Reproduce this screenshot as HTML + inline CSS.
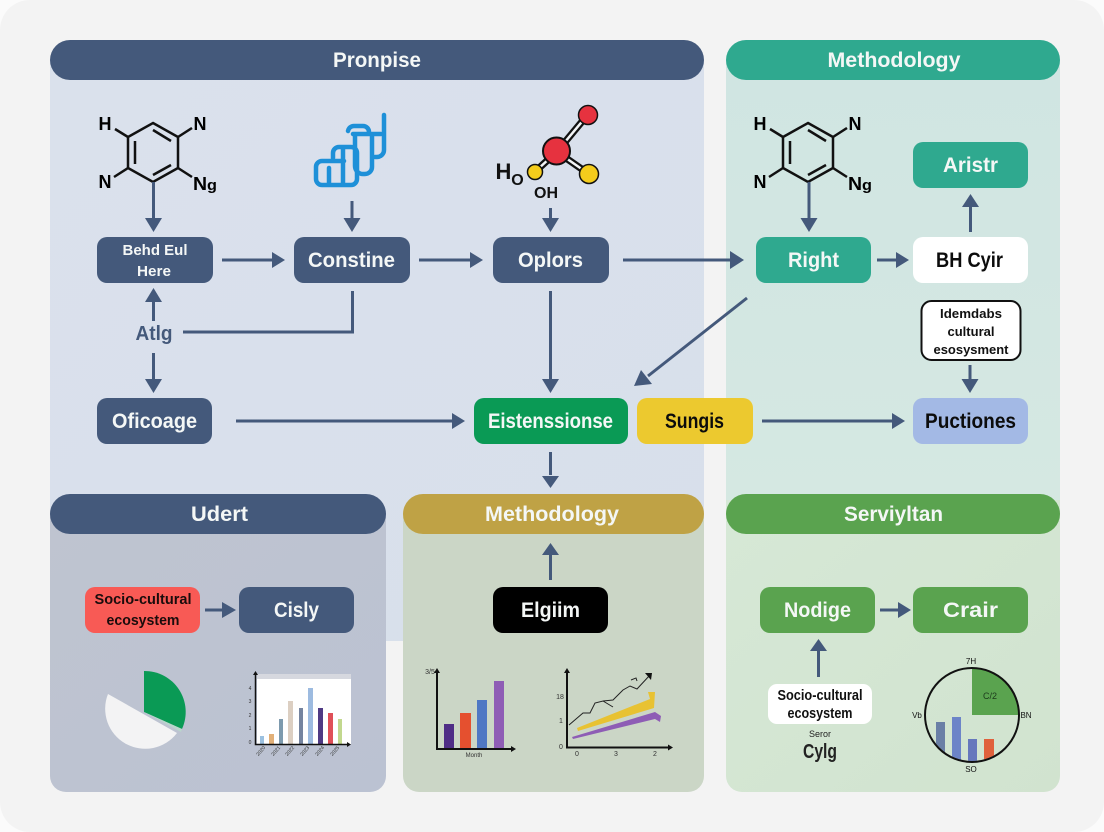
<!DOCTYPE html>
<html><head><meta charset="utf-8"><style>
html,body{margin:0;padding:0;background:#fff}
svg{display:block}
text{font-family:"Liberation Sans",sans-serif;font-weight:700;text-anchor:middle}
.h{font-size:21px;fill:#f4f7f6}
.n{font-size:21px;fill:#f4f7f6}
.k{font-size:21px;fill:#0c0c0c}
.a{font-size:18px;fill:#000}
.s{font-size:15px}
.t{font-size:7px;font-weight:400;fill:#333}
.ln{stroke:#44597b;stroke-width:3;fill:none}
.hd{fill:#44597b}
</style></head><body>
<svg width="1104" height="832" viewBox="0 0 1104 832" xmlns="http://www.w3.org/2000/svg">
<defs>
<linearGradient id="bl" x1="0" y1="0" x2="1" y2="1"><stop offset="0" stop-color="#dae1ec"/><stop offset="1" stop-color="#d8dfeb"/></linearGradient>
<linearGradient id="te" x1="0" y1="0" x2="0" y2="1"><stop offset="0" stop-color="#d0e5e2"/><stop offset="1" stop-color="#d5e8e2"/></linearGradient>
<linearGradient id="gr" x1="0" y1="0" x2="1" y2="1"><stop offset="0" stop-color="#d6e8d6"/><stop offset="1" stop-color="#d1e3cf"/></linearGradient>
<linearGradient id="ud" x1="0" y1="0" x2="1" y2="1"><stop offset="0" stop-color="#bfc4d0"/><stop offset="1" stop-color="#bbc2d2"/></linearGradient>
<clipPath id="cc"><circle cx="972" cy="715" r="46"/></clipPath>
</defs>
<rect width="1104" height="832" fill="#fbfbfb"/>
<rect x="0" y="0" width="1104" height="832" rx="30" fill="#f3f3f3"/>

<!-- panels -->
<path d="M50 60H704V641H50Z" fill="url(#bl)"/>
<rect x="386" y="641" width="17" height="151" fill="#f3f3f3"/>
<path d="M726 60H1060V500H726Z" fill="url(#te)"/>
<path d="M726 500H1060V776a16 16 0 0 1-16 16H742a16 16 0 0 1-16-16Z" fill="url(#gr)"/>
<path d="M50 514H386V776a16 16 0 0 1-16 16H66a16 16 0 0 1-16-16Z" fill="url(#ud)"/>
<path d="M403 514H704V776a16 16 0 0 1-16 16H419a16 16 0 0 1-16-16Z" fill="#cbd6c6"/>

<!-- headers -->
<rect x="50" y="40" width="654" height="40" rx="20" fill="#44597b"/>
<rect x="726" y="40" width="334" height="40" rx="20" fill="#2fa98f"/>
<rect x="50" y="494" width="336" height="40" rx="20" fill="#44597b"/>
<rect x="403" y="494" width="301" height="40" rx="20" fill="#bfa245"/>
<rect x="726" y="494" width="334" height="40" rx="20" fill="#5aa34f"/>
<text class="h" x="377" y="67" textLength="88" lengthAdjust="spacingAndGlyphs">Pronpise</text>
<text class="h" x="894" y="67" textLength="133" lengthAdjust="spacingAndGlyphs">Methodology</text>
<text class="h" x="219.500" y="521" textLength="57" lengthAdjust="spacingAndGlyphs">Udert</text>
<text class="h" x="552" y="521" textLength="134" lengthAdjust="spacingAndGlyphs">Methodology</text>
<text class="h" x="893.500" y="521" textLength="99" lengthAdjust="spacingAndGlyphs">Serviyltan</text>

<!-- left molecule -->
<g fill="none" stroke="#111" stroke-width="2.500">
<path d="M153 123L178 137V168L153 182L128 168V137Z"/>
<path d="M153 130L171 141M171 165L153 175M135 141V164"/>
<path d="M128 137L115 129M178 137L192 128M178 168L192 177M128 168L114 177"/>
</g>
<text class="a" x="105" y="130">H</text><text class="a" x="200" y="130">N</text>
<text class="a" x="105" y="188">N</text><text class="a" x="205" y="190" textLength="24" lengthAdjust="spacingAndGlyphs">N<tspan font-size="15">g</tspan></text>
<!-- right molecule -->
<g fill="none" stroke="#111" stroke-width="2.500">
<path d="M808 123L833 137V168L808 182L783 168V137Z"/>
<path d="M808 130L826 141M826 165L808 175M790 141V164"/>
<path d="M783 137L770 129M833 137L847 128M833 168L847 177M783 168L769 177"/>
</g>
<text class="a" x="760" y="130">H</text><text class="a" x="855" y="130">N</text>
<text class="a" x="760" y="188">N</text><text class="a" x="860" y="190" textLength="24" lengthAdjust="spacingAndGlyphs">N<tspan font-size="15">g</tspan></text>

<!-- blue icon -->
<g fill="none" stroke="#1e90d8" stroke-width="4.500" stroke-linecap="round" stroke-linejoin="round">
<path d="M384 115V150a7 7 0 0 1-7 7H375"/>
<path d="M348 131a6 6 0 0 1 6-5H363a6 6 0 0 1 6 6"/>
<path d="M353 134H381"/>
<path d="M355 136V166a8 8 0 0 0 8 8H365a7 7 0 0 0 7-7V136"/>
<path d="M333 158V153a6 6 0 0 1 6-6H351a6 6 0 0 1 6 6V179a6 6 0 0 1-6 6H322a6 6 0 0 1-6-6V167a6 6 0 0 1 6-6H344"/>
<path d="M343 148V184"/>
<path d="M329 168V184"/>
</g>

<!-- ball molecule -->
<g fill="none">
<path d="M560 148L585 118" stroke="#111" stroke-width="7"/>
<path d="M560 148L585 118" stroke="#f4f6f8" stroke-width="2.500"/>
<path d="M563 156L586 172" stroke="#111" stroke-width="7"/>
<path d="M563 156L586 172" stroke="#f4f6f8" stroke-width="2.500"/>
<path d="M538 169L550 158" stroke="#111" stroke-width="7"/>
<path d="M538 169L550 158" stroke="#f4f6f8" stroke-width="2.500"/>
</g>
<circle cx="588" cy="115" r="9.500" fill="#e6323f" stroke="#111" stroke-width="1.500"/>
<circle cx="589" cy="174" r="9.500" fill="#f4cc1c" stroke="#111" stroke-width="1.500"/>
<circle cx="535" cy="172" r="7.500" fill="#f4cc1c" stroke="#111" stroke-width="1.500"/>
<circle cx="556.500" cy="151" r="13.500" fill="#e6323f" stroke="#111" stroke-width="2"/>
<text x="503.500" y="179" style="font-size:22px" fill="#111">H</text>
<text x="517.500" y="185" style="font-size:16px" fill="#111">O</text>
<text x="546" y="198" style="font-size:16px" fill="#111">OH</text>

<!-- connectors -->
<g class="ln">
<path class="ln" d="M153.500 182V220"/>
<path class="ln" d="M352 201V220"/>
<path class="ln" d="M550.500 208V220"/>
<path class="ln" d="M809 182V220"/>
<path class="ln" d="M222 260H272"/>
<path class="ln" d="M419 260H470"/>
<path class="ln" d="M623 260H730"/>
<path class="ln" d="M877 260H896"/>
<path class="ln" d="M970.500 232V205"/>
<path class="ln" d="M153.500 321V300"/>
<path class="ln" d="M153.500 353V380"/>
<path class="ln" d="M183 332H352.500V291"/>
<path class="ln" d="M550.500 291V380"/>
<path class="ln" d="M747 298L648 376"/>
<path class="ln" d="M236 421H452"/>
<path class="ln" d="M762 421H892"/>
<path class="ln" d="M970 365V380"/>
<path class="ln" d="M550.500 452V475"/>
<path class="ln" d="M550.500 580V555"/>
<path class="ln" d="M205 610H222"/>
<path class="ln" d="M880 610H898"/>
<path class="ln" d="M818.500 677V650"/>
</g>
<g class="hd">
<path d="M145 218H162L153.500 232Z"/>
<path d="M343.500 218H360.500L352 232Z"/>
<path d="M542 218H559L550.500 232Z"/>
<path d="M800.500 218H817.500L809 232Z"/>
<path d="M272 252V268L285 260Z"/>
<path d="M470 252V268L483 260Z"/>
<path d="M730 251V269L744 260Z"/>
<path d="M896 252V268L909 260Z"/>
<path d="M962 207H979L970.500 194Z"/>
<path d="M145 302H162L153.500 288Z"/>
<path d="M145 379H162L153.500 393Z"/>
<path d="M542 379H559L550.500 393Z"/>
<path d="M634 386L652 384L641 370Z"/>
<path d="M452 413V429L465 421Z"/>
<path d="M892 413V429L905 421Z"/>
<path d="M961.500 379H978.500L970 393Z"/>
<path d="M542 476H559L550.500 488Z"/>
<path d="M542 555H559L550.500 543Z"/>
<path d="M222 602V618L236 610Z"/>
<path d="M898 602V618L911 610Z"/>
<path d="M810 651H827L818.500 639Z"/>
</g>

<!-- nodes -->
<rect x="97" y="237" width="116" height="46" rx="10" fill="#44597b"/>
<text x="155" y="255" class="s" fill="#f4f7f6" textLength="65" lengthAdjust="spacingAndGlyphs">Behd Eul</text>
<text x="154" y="276" class="s" fill="#f4f7f6" textLength="34" lengthAdjust="spacingAndGlyphs">Here</text>
<rect x="294" y="237" width="116" height="46" rx="10" fill="#44597b"/>
<text class="n" x="351.500" y="267" textLength="87" lengthAdjust="spacingAndGlyphs">Constine</text>
<rect x="493" y="237" width="116" height="46" rx="10" fill="#44597b"/>
<text class="n" x="550.500" y="267" textLength="65" lengthAdjust="spacingAndGlyphs">Oplors</text>
<rect x="756" y="237" width="115" height="46" rx="10" fill="#2fa98f"/>
<text class="n" x="813.500" y="267" textLength="51" lengthAdjust="spacingAndGlyphs">Right</text>
<rect x="913" y="237" width="115" height="46" rx="10" fill="#fff"/>
<text class="k" x="969.500" y="267" textLength="67" lengthAdjust="spacingAndGlyphs">BH Cyir</text>
<rect x="913" y="142" width="115" height="46" rx="10" fill="#2fa98f"/>
<text class="n" x="970.500" y="172" textLength="55" lengthAdjust="spacingAndGlyphs">Aristr</text>
<text x="154" y="340" style="font-size:20px" fill="#44597b" textLength="37" lengthAdjust="spacingAndGlyphs">Atlg</text>
<rect x="97" y="398" width="115" height="46" rx="10" fill="#44597b"/>
<text class="n" x="154.500" y="428" textLength="85" lengthAdjust="spacingAndGlyphs">Oficoage</text>
<rect x="474" y="398" width="154" height="46" rx="10" fill="#0a9a55"/>
<text class="n" x="550.500" y="428" textLength="125" lengthAdjust="spacingAndGlyphs">Eistenssionse</text>
<rect x="637" y="398" width="116" height="46" rx="10" fill="#ecc92f"/>
<text class="k" x="694.500" y="428" textLength="59" lengthAdjust="spacingAndGlyphs">Sungis</text>
<rect x="913" y="398" width="115" height="46" rx="10" fill="#a3b9e5"/>
<text class="k" x="970.500" y="428" textLength="91" lengthAdjust="spacingAndGlyphs">Puctiones</text>
<rect x="921.500" y="301" width="99" height="59" rx="10" fill="#fff" stroke="#111" stroke-width="2"/>
<g fill="#111" style="font-size:13px">
<text x="971" y="318" style="font-size:13px" textLength="62" lengthAdjust="spacingAndGlyphs">Idemdabs</text>
<text x="971" y="336" style="font-size:13px" textLength="47" lengthAdjust="spacingAndGlyphs">cultural</text>
<text x="971" y="354" style="font-size:13px" textLength="75" lengthAdjust="spacingAndGlyphs">esosysment</text>
</g>
<rect x="85" y="587" width="115" height="46" rx="10" fill="#f85a55"/>
<text x="143" y="604" class="s" fill="#1a0c0c" textLength="97" lengthAdjust="spacingAndGlyphs">Socio-cultural</text>
<text x="143" y="625" class="s" fill="#1a0c0c" textLength="73" lengthAdjust="spacingAndGlyphs">ecosystem</text>
<rect x="239" y="587" width="115" height="46" rx="10" fill="#44597b"/>
<text class="n" x="296.500" y="617" textLength="45" lengthAdjust="spacingAndGlyphs">Cisly</text>
<rect x="493" y="587" width="115" height="46" rx="10" fill="#000"/>
<text class="n" x="550.500" y="617" textLength="59" lengthAdjust="spacingAndGlyphs">Elgiim</text>
<rect x="760" y="587" width="115" height="46" rx="10" fill="#5aa34f"/>
<text class="n" x="817.500" y="617" textLength="67" lengthAdjust="spacingAndGlyphs">Nodige</text>
<rect x="913" y="587" width="115" height="46" rx="10" fill="#5aa34f"/>
<text class="n" x="970.500" y="617" textLength="55" lengthAdjust="spacingAndGlyphs">Crair</text>
<rect x="768" y="684" width="104" height="40" rx="9" fill="#fff"/>
<text x="820" y="700" class="s" fill="#111" textLength="85" lengthAdjust="spacingAndGlyphs">Socio-cultural</text>
<text x="820" y="718" class="s" fill="#111" textLength="65" lengthAdjust="spacingAndGlyphs">ecosystem</text>
<text x="820" y="737" style="font-size:9px;font-weight:400" fill="#222">Seror</text>
<text x="820" y="758" style="font-size:20px" fill="#222" textLength="34" lengthAdjust="spacingAndGlyphs">Cylg</text>

<!-- pie -->
<path d="M144 671A41 41 0 0 1 182 729L144 712Z" fill="#0a9a55"/>
<path d="M144 712L182 729L181 732Z" fill="#b9d6cc"/>
<path d="M108 694L177 733A40 40 0 0 1 108 694Z" fill="#f3f3f4"/>

<!-- bar chart 1 -->
<rect x="257" y="674" width="94" height="70" fill="#fff"/>
<rect x="257" y="674" width="94" height="5" fill="#d6d8df"/>
<g>
<rect x="260" y="736" width="4" height="8" fill="#9cc1e0"/>
<rect x="269" y="734" width="5" height="10" fill="#e2b078"/>
<rect x="279" y="719" width="4" height="25" fill="#7d9aae"/>
<rect x="288" y="701" width="5" height="43" fill="#dccfc2"/>
<rect x="299" y="708" width="4" height="36" fill="#75849f"/>
<rect x="308" y="688" width="5" height="56" fill="#9dbbe0"/>
<rect x="318" y="708" width="5" height="36" fill="#4f3a84"/>
<rect x="328" y="713" width="5" height="31" fill="#df5058"/>
<rect x="338" y="719" width="4" height="25" fill="#c2d88e"/>
</g>
<path d="M255.500 674V744.500H347" fill="none" stroke="#111" stroke-width="1.500"/>
<path d="M253 675H258L255.500 671ZM347 742V747L351 744.500Z" fill="#111"/>
<text class="t" x="250" y="690" style="font-size:5px">4</text>
<text class="t" x="250" y="703" style="font-size:5px">3</text>
<text class="t" x="250" y="717" style="font-size:5px">2</text>
<text class="t" x="250" y="730" style="font-size:5px">1</text>
<text class="t" x="250" y="744" style="font-size:5px">0</text>
<g>
<text class="t" style="font-size:5px" transform="translate(262,752) rotate(-50)">2020</text>
<text class="t" style="font-size:5px" transform="translate(277,752) rotate(-50)">2021</text>
<text class="t" style="font-size:5px" transform="translate(291,752) rotate(-50)">2022</text>
<text class="t" style="font-size:5px" transform="translate(306,752) rotate(-50)">2023</text>
<text class="t" style="font-size:5px" transform="translate(321,752) rotate(-50)">2024</text>
<text class="t" style="font-size:5px" transform="translate(336,752) rotate(-50)">2025</text>
</g>

<!-- bar chart 2 -->
<rect x="444" y="724" width="10" height="25" fill="#4f2d86"/>
<rect x="460" y="713" width="11" height="36" fill="#e5502f"/>
<rect x="477" y="700" width="10" height="49" fill="#4f78c4"/>
<rect x="494" y="681" width="10" height="68" fill="#8f5db5"/>
<path d="M437 673V749H512" fill="none" stroke="#111" stroke-width="2"/>
<path d="M434 673H440L437 668ZM511 746V752L516 749Z" fill="#111"/>
<text class="t" x="430" y="674">3/5</text>
<text class="t" x="474" y="757" style="font-size:6px">Month</text>

<!-- line chart -->
<path d="M567 672V747.500H669" fill="none" stroke="#111" stroke-width="2"/>
<path d="M564 673H570L567 668ZM668 744.500V750.500L673 747.500Z" fill="#111"/>
<text class="t" x="560" y="699">18</text><text class="t" x="561" y="723">1</text><text class="t" x="561" y="749">0</text>
<text class="t" x="577" y="756">0</text><text class="t" x="616" y="756">3</text><text class="t" x="655" y="756">2</text>
<path d="M569 725L583 713L590 713L595 703L603 701L613 707M603 701L613 700L618 695L623 690L630 686L637 689L650 675" fill="none" stroke="#222" stroke-width="1"/>
<path d="M631 680L636 678L637 681" fill="none" stroke="#222" stroke-width="1"/>
<path d="M645 673L652 673L651 680Z" fill="#111"/>
<path d="M577 728L650 699L648 692H655L654 708L578 731Z" fill="#e8c232"/>
<path d="M572 737L655 712L661 716L660 722L655 719L573 739Z" fill="#8e5db5"/>

<!-- circle chart -->
<path d="M972 668A47 47 0 0 1 1019 715H972Z" fill="#5aa34f"/>
<g clip-path="url(#cc)">
<rect x="936" y="722" width="9" height="45" fill="#6a7fa6"/>
<rect x="952" y="717" width="9" height="50" fill="#6c84c8"/>
<rect x="968" y="739" width="9" height="28" fill="#6678bd"/>
<rect x="984" y="739" width="10" height="28" fill="#e0613c"/>
</g>
<circle cx="972" cy="715" r="47" fill="none" stroke="#111" stroke-width="2"/>
<text class="t" x="971" y="664" style="font-size:8px;fill:#111">7H</text>
<text class="t" x="917" y="718" style="font-size:8px;fill:#111">Vb</text>
<text class="t" x="1026" y="718" style="font-size:8px;fill:#111">BN</text>
<text class="t" x="971" y="772" style="font-size:8px;fill:#111">SO</text>
<text class="t" x="990" y="699" style="font-size:9px;fill:#1c3a1c">C/2</text>
</svg>
</body></html>
